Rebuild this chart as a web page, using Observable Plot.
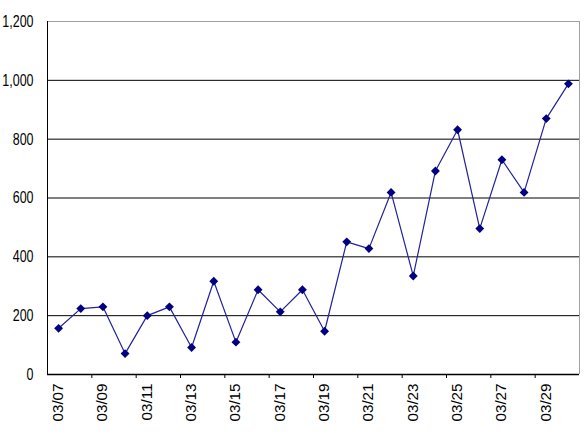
<!DOCTYPE html>
<html><head><meta charset="utf-8">
<script src="https://cdn.jsdelivr.net/npm/d3@7"></script>
<script src="https://cdn.jsdelivr.net/npm/@observablehq/plot@0.6"></script>
<style>body{margin:0;background:#fff}</style>
</head><body><div id="chart"></div>
<script>
const dates = ["03/07","03/08","03/09","03/10","03/11","03/12","03/13","03/14","03/15","03/16","03/17","03/18",
               "03/19","03/20","03/21","03/22","03/23","03/24","03/25","03/26","03/27","03/28","03/29","03/30"];
const values = [157,224,230,71,200,230,92,317,110,288,213,288,147,451,428,619,335,692,832,496,730,619,870,988];
const yTicks = [0,200,400,600,800,1000,1200];

const rows = dates.map((d, i) => ({i, date: d, value: values[i]}));
const n = dates.length;
const labelIdx = dates.map((d, i) => i).filter(i => i % 2 === 0);
const boundaryTicks = labelIdx.slice(1).map(i => i - 0.5);

const chart = Plot.plot({
  width: 586,
  height: 435,
  marginLeft: 47,
  marginRight: 7,
  marginTop: 21,
  marginBottom: 61,
  style: {fontFamily: "'Liberation Sans', Arial, sans-serif", fontSize: "16px", color: "#000", background: "#fff"},
  x: {type: "linear", domain: [-0.5, n - 0.5], axis: null},
  y: {domain: [0, 1200], axis: null},
  marks: [
    Plot.ruleY(yTicks.slice(1, -1), {stroke: "#000", strokeWidth: 1}),
    Plot.ruleY([yTicks[yTicks.length - 1]], {stroke: "#a0a0a0", strokeWidth: 1}),
    Plot.ruleX([n - 0.5], {stroke: "#a0a0a0", strokeWidth: 1}),
    Plot.ruleX([-0.5], {stroke: "#000", strokeWidth: 1}),
    Plot.ruleY([0], {stroke: "#000", strokeWidth: 1.5}),
    Plot.line(rows, {x: "i", y: "value", stroke: "#22229a", strokeWidth: 1.2}),
    Plot.dot(rows, {x: "i", y: "value", symbol: "diamond2", r: 4, fill: "#000080", stroke: "none"}),
    Plot.axisY({ticks: yTicks, tickSize: 0, tickPadding: 14, tickFormat: d3.format(","), label: null, fill: "#000"}),
    Plot.axisX({ticks: boundaryTicks, tickSize: 4, tickFormat: () => "", label: null, stroke: "#000"}),
    Plot.axisX({ticks: labelIdx, tickSize: 0, tickPadding: 9, tickRotate: -90, tickFormat: i => dates[i], label: null, fill: "#000"})
  ]
});
// narrow the glyphs to mimic the condensed original font
d3.select(chart).selectAll("text").each(function() {
  const t = this.getAttribute("transform") || "";
  if (!t) return;
  this.setAttribute("transform", t + (t.includes("rotate") ? " scale(0.95,0.88)" : " scale(0.78,1.05)"));
});
document.getElementById("chart").appendChild(chart);
</script>
</body></html>
